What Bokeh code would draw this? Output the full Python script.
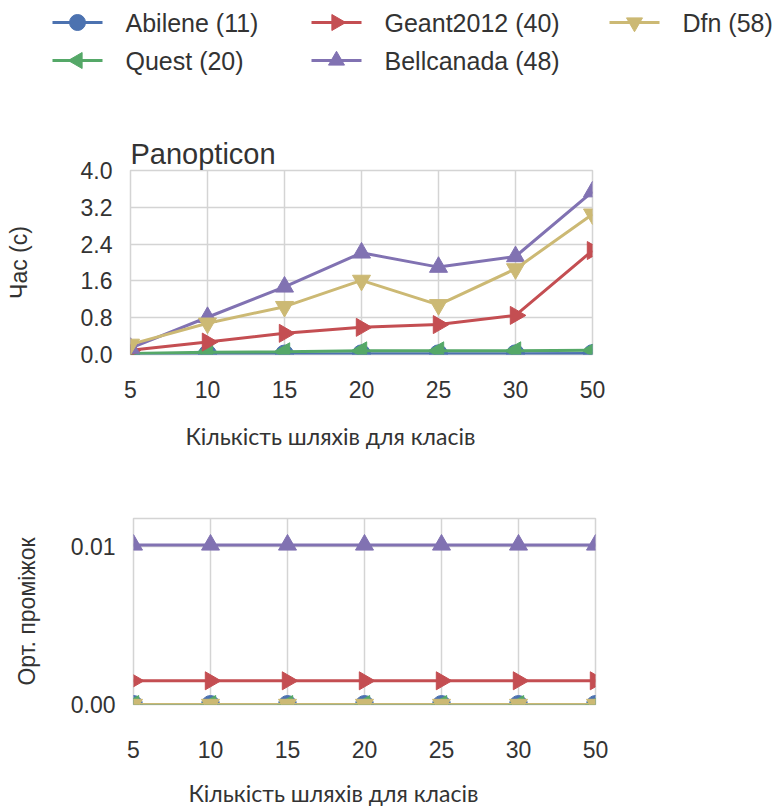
import math
from bokeh.plotting import figure
from bokeh.models import (FixedTicker, Range1d, NumeralTickFormatter,
                          ColumnDataSource, Title)
from bokeh.core.properties import value
from bokeh.layouts import column
from bokeh.embed import file_html
from bokeh.resources import INLINE

# ---------------- data ----------------
x_labels = ["5", "10", "15", "20", "25", "30", "50"]

names = ["Abilene (11)", "Quest (20)", "Geant2012 (40)", "Bellcanada (48)", "Dfn (58)"]

abilene_time = [0.005, 0.01, 0.01, 0.015, 0.015, 0.015, 0.02]
quest_time = [0.02, 0.05, 0.06, 0.08, 0.08, 0.08, 0.09]
geant_time = [0.09, 0.27, 0.46, 0.59, 0.65, 0.85, 2.26]
bell_time = [0.14, 0.81, 1.47, 2.21, 1.90, 2.13, 3.54]
dfn_time = [0.22, 0.68, 1.04, 1.61, 1.08, 1.86, 3.05]

abilene_gap = [0.0, 0.0, 0.0, 0.0, 0.0, 0.0, 0.0]
quest_gap = [0.0, 0.0, 0.0, 0.0, 0.0, 0.0, 0.0]
geant_gap = [0.0015, 0.0015, 0.0015, 0.0015, 0.0015, 0.0015, 0.0015]
bell_gap = [0.0101, 0.0101, 0.0101, 0.0101, 0.0101, 0.0101, 0.0101]
dfn_gap = [0.0, 0.0, 0.0, 0.0, 0.0, 0.0, 0.0]

time_ticks = [0.0, 0.8, 1.6, 2.4, 3.2, 4.0]
gap_ticks = [0.0, 0.01]

x_title = "Кількість шляхів для класів"
y_title_time = "Час (с)"
y_title_gap = "Орт. проміжок"
plot_title = "Panopticon"

colors = ["#4C72B0", "#55A868", "#C44E52", "#8172B2", "#CCB974"]
markers = ["circle", "triangle", "triangle", "triangle", "inverted_triangle"]
angles = [0.0, math.pi / 2, -math.pi / 2, 0.0, 0.0]

times = [abilene_time, quest_time, geant_time, bell_time, dfn_time]
gaps = [abilene_gap, quest_gap, geant_gap, bell_gap, dfn_gap]

xs = list(range(len(x_labels)))

TICK_FONT = "Liberation Sans"
TEXT_COLOR = "#333333"
GRID_COLOR = "#d4d4d4"
MSIZE = 18
LW = 3

# legend layout (screen pixels of the legend strip)
LEG_W, LEG_H = 778, 100
LEG_COL_X = [52, 311, 609]
LEG_ROW_Y = [22, 60]
LEG_GLYPH_W = 50
LEG_TEXT_GAP = 23


def style(p, yticks, yfmt, ylab, tick_standoff_x, ylab_standoff, xlab_standoff):
    p.outline_line_color = GRID_COLOR
    p.outline_line_width = 1.5
    p.xgrid.ticker = FixedTicker(ticks=xs)
    p.ygrid.ticker = FixedTicker(ticks=yticks)
    for g in (p.xgrid, p.ygrid):
        g.grid_line_color = GRID_COLOR
        g.grid_line_width = 1.5
    p.xaxis.ticker = FixedTicker(ticks=xs)
    p.xaxis.major_label_overrides = {i: s for i, s in enumerate(x_labels)}
    p.yaxis.ticker = FixedTicker(ticks=yticks)
    p.yaxis.formatter = NumeralTickFormatter(format=yfmt)
    for ax in (p.xaxis, p.yaxis):
        ax.axis_line_color = None
        ax.major_tick_line_color = None
        ax.minor_tick_line_color = None
        ax.major_label_text_font = TICK_FONT
        ax.major_label_text_font_size = "23px"
        ax.major_label_text_color = TEXT_COLOR
    p.xaxis.major_label_standoff = tick_standoff_x
    p.yaxis.major_label_standoff = 12
    p.yaxis.axis_label = ylab
    p.yaxis.axis_label_text_font = TICK_FONT
    p.yaxis.axis_label_text_font_size = "23px"
    p.yaxis.axis_label_text_font_style = "normal"
    p.yaxis.axis_label_text_color = TEXT_COLOR
    p.yaxis.axis_label_standoff = ylab_standoff
    t = Title(text=x_title, align="left", offset=55, standoff=xlab_standoff,
              vertical_align="bottom",
              text_font="Lato", text_font_size="23px", text_font_style="normal",
              text_color=TEXT_COLOR)
    p.add_layout(t, "below")


# ---------------- legend strip ----------------
p_leg = figure(width=LEG_W, height=LEG_H, output_backend="svg", toolbar_location=None,
               x_range=Range1d(0, LEG_W), y_range=Range1d(LEG_H, 0), min_border=0)
p_leg.frame_align = False
p_leg.axis.visible = False
p_leg.grid.visible = False
p_leg.outline_line_color = None

for i, name in enumerate(names):
    cx = LEG_COL_X[i // 2]
    cy = LEG_ROW_Y[i % 2]
    p_leg.segment(x0=[cx], y0=[cy], x1=[cx + LEG_GLYPH_W], y1=[cy],
                  line_color=colors[i], line_width=LW)
    p_leg.scatter(x=[cx + LEG_GLYPH_W / 2], y=[cy], marker=markers[i], angle=angles[i],
                  size=MSIZE - 2, fill_color=colors[i], line_color=colors[i])
    p_leg.text(x=[cx + LEG_GLYPH_W + LEG_TEXT_GAP], y=[cy], text=[name],
               text_font=value(TICK_FONT), text_font_size="25px",
               text_color=TEXT_COLOR, text_baseline="middle", text_align="left")

# ---------------- top figure (time) ----------------
p1 = figure(frame_width=462, frame_height=184, output_backend="svg", toolbar_location=None,
            x_range=Range1d(0, len(x_labels) - 1), y_range=Range1d(0, 4.0),
            min_border_left=130, min_border_right=186, min_border_top=70,
            min_border_bottom=116, title=plot_title)
p1.frame_align = False
p1.title.text_font = TICK_FONT
p1.title.text_font_size = "29px"
p1.title.text_font_style = "normal"
p1.title.text_color = TEXT_COLOR
p1.title.standoff = 2
p1.title.offset = 0
style(p1, time_ticks, "0.0", y_title_time, 20, 46, 38)

for i in range(len(names)):
    src = ColumnDataSource(data=dict(x=xs, y=times[i]))
    p1.line("x", "y", source=src, line_color=colors[i], line_width=LW)
    p1.scatter("x", "y", source=src, marker=markers[i], angle=angles[i], size=MSIZE,
               fill_color=colors[i], line_color=colors[i])

# ---------------- bottom figure (gap) ----------------
p2 = figure(frame_width=462, frame_height=186, output_backend="svg", toolbar_location=None,
            x_range=Range1d(0, len(x_labels) - 1), y_range=Range1d(0, 0.01177),
            min_border_left=133, min_border_right=183, min_border_top=48,
            min_border_bottom=103)
p2.frame_align = False
style(p2, gap_ticks, "0.00", y_title_gap, 30, 28, 33)

for i in range(len(names)):
    src = ColumnDataSource(data=dict(x=xs, y=gaps[i]))
    p2.line("x", "y", source=src, line_color=colors[i], line_width=LW)
    p2.scatter("x", "y", source=src, marker=markers[i], angle=angles[i], size=MSIZE,
               fill_color=colors[i], line_color=colors[i])

layout = column(p_leg, p1, p2, spacing=0)

open("out.html", "w").write(file_html(layout, INLINE))
